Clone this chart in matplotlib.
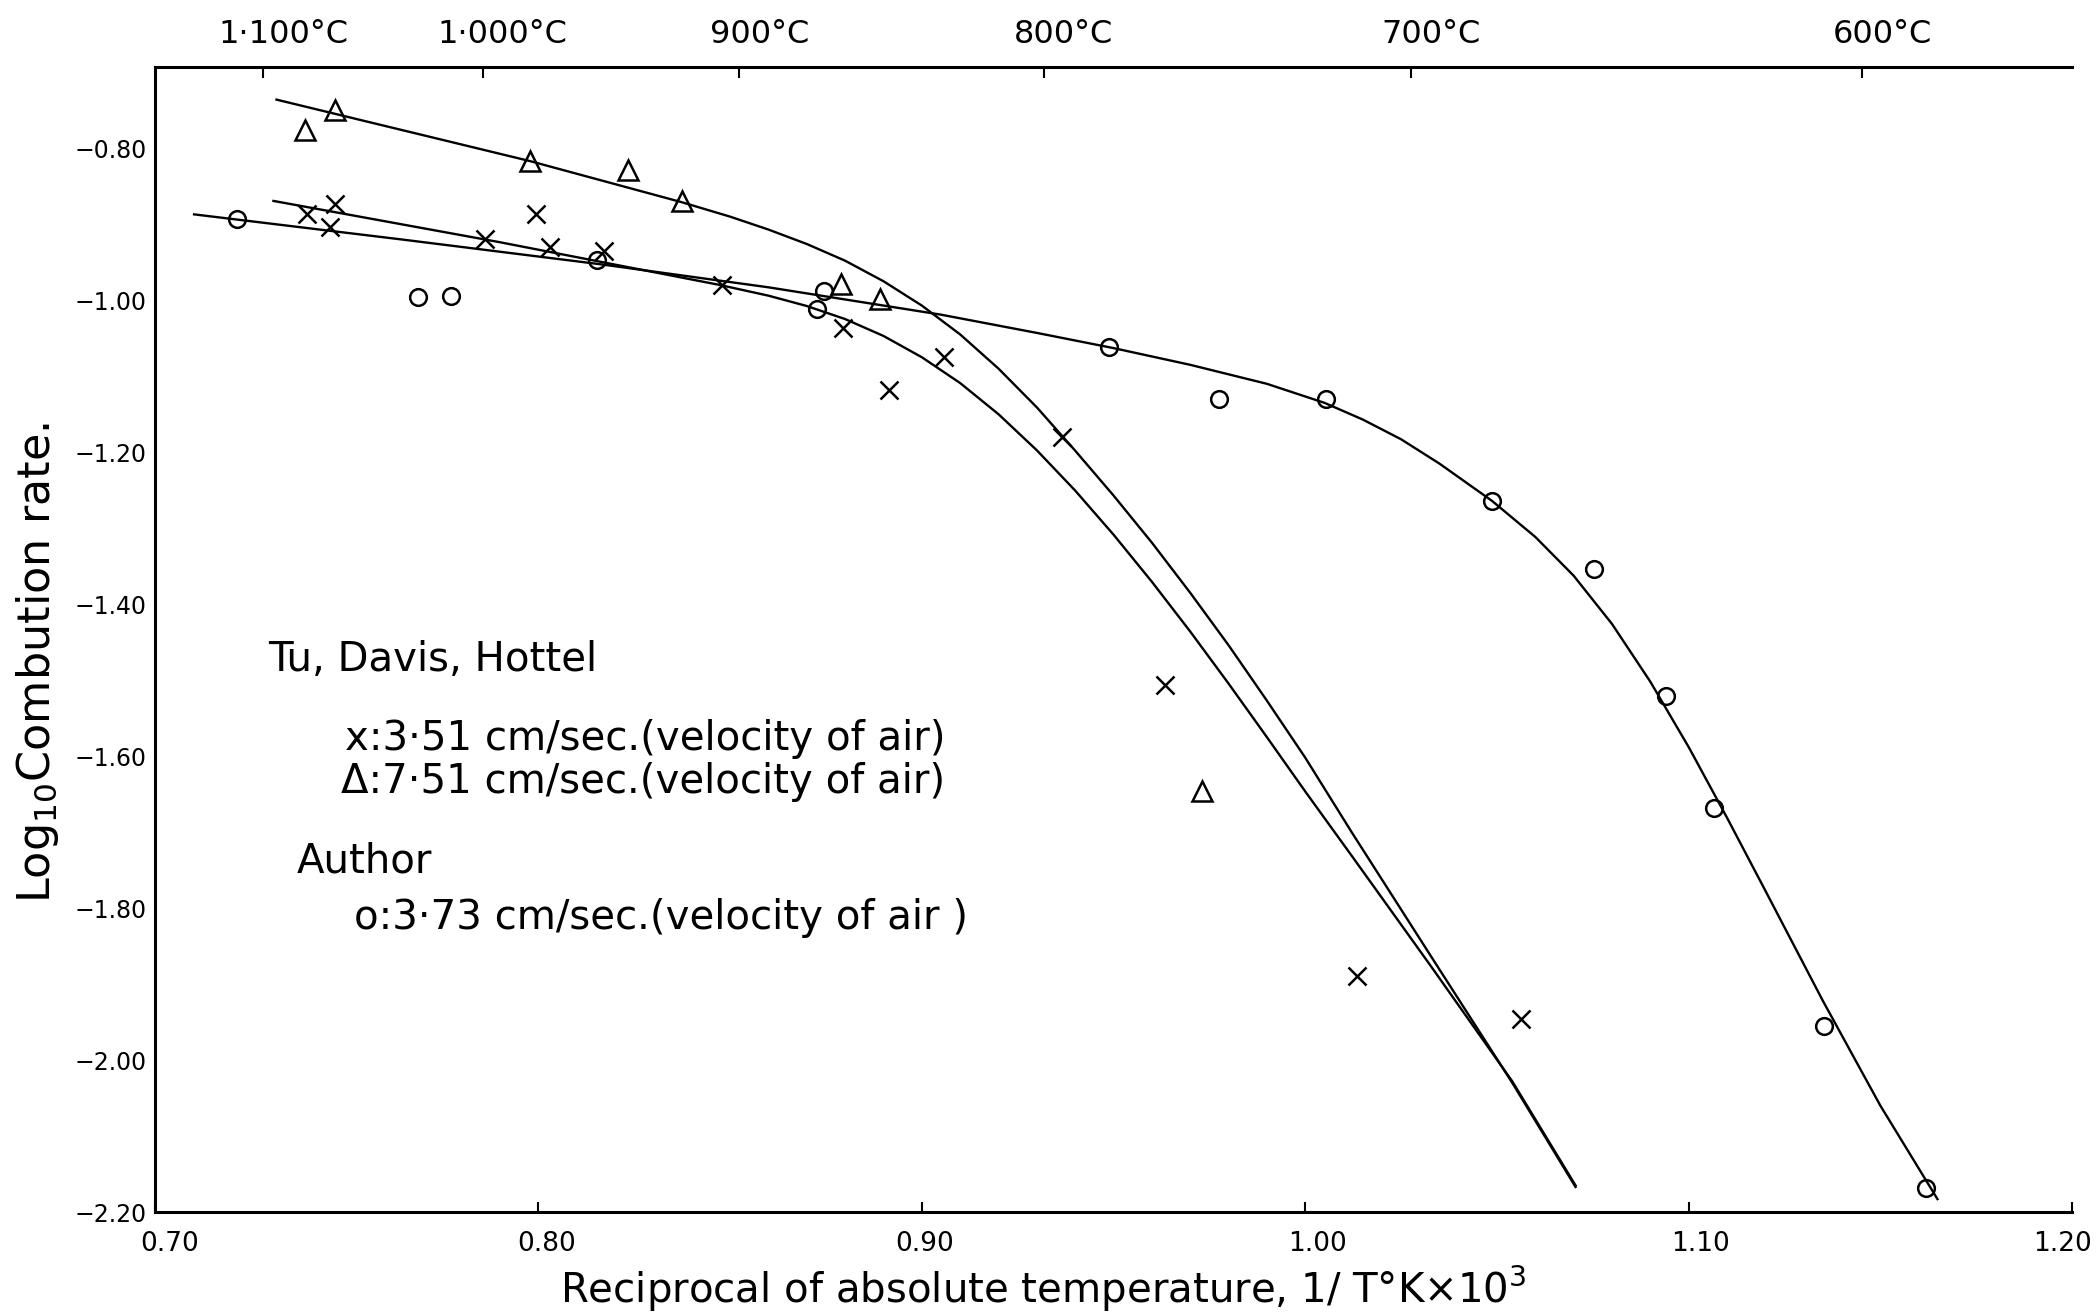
import matplotlib.pyplot as plt
import matplotlib.transforms as mtransforms

############ data ############

# Author, o : 3.73 cm/sec
author_x = [0.7213, 0.7686, 0.7773, 0.8154, 0.8726, 0.8744, 0.9488, 0.9774,
            1.0054, 1.0487, 1.0752, 1.0941, 1.1066, 1.1353, 1.1618]
author_y = [-0.8925, -0.996, -0.995, -0.947, -1.012, -0.988, -1.062, -1.130,
            -1.130, -1.264, -1.354, -1.5215, -1.6677, -1.955, -2.168]
author_curve_x = [0.7102, 0.7643, 0.8167, 0.860, 0.905, 0.930, 0.950, 0.970,
                  0.990, 1.005, 1.015, 1.025, 1.035, 1.0487, 1.060, 1.070,
                  1.080, 1.090, 1.100, 1.110, 1.120, 1.135, 1.150, 1.1649]
author_curve_y = [-0.887, -0.920, -0.953, -0.983, -1.019, -1.043, -1.063, -1.085,
                  -1.110, -1.135, -1.157, -1.183, -1.215, -1.264, -1.3115, -1.3625,
                  -1.426, -1.502, -1.588, -1.681, -1.777, -1.922, -2.060, -2.183]

# Tu, Davis, Hottel  x : 3.51 cm/sec
cross_x = [0.7396, 0.7469, 0.7456, 0.7860, 0.7993, 0.8031, 0.8171, 0.8478,
           0.8795, 0.8915, 0.9058, 0.9365, 0.9634, 1.0136, 1.0562]
cross_y = [-0.886, -0.873, -0.9035, -0.919, -0.887, -0.9295, -0.9348, -0.9806,
           -1.036, -1.118, -1.075, -1.180, -1.5065, -1.890, -1.946]
cross_curve_x = [0.7309, 0.790, 0.8474, 0.860, 0.870, 0.880, 0.890, 0.900,
                 0.910, 0.920, 0.930, 0.940, 0.950, 0.960, 0.970, 0.980,
                 0.990, 1.000, 1.0121, 1.033, 1.054, 1.0705]
cross_curve_y = [-0.8693, -0.9237, -0.980, -0.994, -1.0076, -1.0248, -1.047, -1.075,
                 -1.109, -1.150, -1.1975, -1.2505, -1.3085, -1.3705, -1.436, -1.5045,
                 -1.575, -1.6465, -1.731, -1.878, -2.028, -2.165]

# Tu, Davis, Hottel  triangle : 7.51 cm/sec
tri_x = [0.7391, 0.7469, 0.7979, 0.8234, 0.8374, 0.8788, 0.8890, 0.9731]
tri_y = [-0.7754, -0.750, -0.8168, -0.8291, -0.8696, -0.978, -0.999, -1.646]
tri_curve_x = [0.7317, 0.7979, 0.8374, 0.850, 0.860, 0.870, 0.880, 0.890,
               0.900, 0.910, 0.920, 0.930, 0.940, 0.950, 0.960, 0.970,
               0.980, 0.990, 1.000, 1.0121, 1.033, 1.054, 1.0705]
tri_curve_y = [-0.736, -0.817, -0.871, -0.890, -0.907, -0.926, -0.948, -0.975,
               -1.007, -1.045, -1.090, -1.141, -1.198, -1.257, -1.319, -1.385,
               -1.454, -1.527, -1.602, -1.700, -1.865, -2.030, -2.167]

x_ticks = [0.70, 0.80, 0.90, 1.00, 1.10, 1.20]
x_labels = ['0.70', '0.80', '0.90', '1.00', '1.10', '1.20']
y_ticks = [-0.80, -1.00, -1.20, -1.40, -1.60, -1.80, -2.00, -2.20]
y_labels = ['\u22120.80', '\u22121.00', '\u22121.20', '\u22121.40',
            '\u22121.60', '\u22121.80', '\u22122.00', '\u22122.20']
celsius_ticks = [1100, 1000, 900, 800, 700, 600]
celsius_labels = ['1\u00b7100\u00b0C', '1\u00b7000\u00b0C', '900\u00b0C',
                  '800\u00b0C', '700\u00b0C', '600\u00b0C']

############ plot ############

fig = plt.figure(figsize=(21, 13.13), dpi=100)
ax = fig.add_axes([0.0738, 0.0769, 0.9129, 0.8721])

ax.plot(author_curve_x, author_curve_y, color='black', lw=1.7)
ax.plot(cross_curve_x, cross_curve_y, color='black', lw=1.7)
ax.plot(tri_curve_x, tri_curve_y, color='black', lw=1.7)

ax.plot(author_x, author_y, 'o', ms=12, mfc='none', mec='black', mew=1.8)
ax.plot(cross_x, cross_y, 'x', ms=13, mec='black', mew=1.8)
ax.plot(tri_x, tri_y, '^', ms=14, mfc='none', mec='black', mew=1.8)

ax.set_xlim(0.70, 1.20)
ax.set_ylim(-2.20, -0.693)
ax.set_xticks(x_ticks, labels=x_labels)
ax.set_yticks(y_ticks, labels=y_labels)

ax.spines['right'].set_visible(False)
ax.spines['top'].set_visible(False)
for s in ['left', 'bottom']:
    ax.spines[s].set_linewidth(2.2)

ax.tick_params(axis='y', length=0, pad=6, labelsize=17)
ax.tick_params(axis='x', direction='in', length=7, width=1.5, pad=14, labelsize=19)
# the scanned labels sit a little right of their ticks, except the last one
shifts = [0.15, 0.08, 0.03, 0.12, 0.12, -0.1]
for lbl, dx in zip(ax.get_xticklabels(), shifts):
    lbl.set_transform(lbl.get_transform() + mtransforms.ScaledTranslation(dx, 0, fig.dpi_scale_trans))

# top axis in degrees Celsius
secax = ax.secondary_xaxis('top', functions=(lambda x: 1000.0 / x - 273.15,
                                              lambda c: 1000.0 / (c + 273.15)))
secax.set_xticks(celsius_ticks, labels=celsius_labels)
secax.spines['top'].set_linewidth(2.2)
secax.tick_params(direction='in', length=8, width=1.5, pad=12, labelsize=23)
offset = mtransforms.ScaledTranslation(0.2, 0, fig.dpi_scale_trans)
for lbl in secax.get_xticklabels():
    lbl.set_transform(lbl.get_transform() + offset)

# notes
ax.text(0.059, 0.482, 'Tu, Davis, Hottel', transform=ax.transAxes, fontsize=29, va='center')
ax.text(0.099, 0.413, 'x:3\u00b751 cm/sec.(velocity of air)', transform=ax.transAxes,
        fontsize=29, va='center')
ax.text(0.097, 0.3755, '\u0394:7\u00b751 cm/sec.(velocity of air)', transform=ax.transAxes,
        fontsize=29, va='center')
ax.text(0.074, 0.306, 'Author', transform=ax.transAxes, fontsize=29, va='center')
ax.text(0.104, 0.257, 'o:3\u00b773 cm/sec.(velocity of air )', transform=ax.transAxes,
        fontsize=29, va='center')

fig.text(0.497, 0.018, 'Reciprocal of absolute temperature, 1/ T\u00b0K\u00d710$^3$',
         fontsize=29, ha='center', va='center')
fig.text(0.018, 0.495, 'Log$_{10}$Combution rate.', fontsize=32, rotation=90,
         ha='center', va='center')

fig.savefig('out.png', dpi=100)
